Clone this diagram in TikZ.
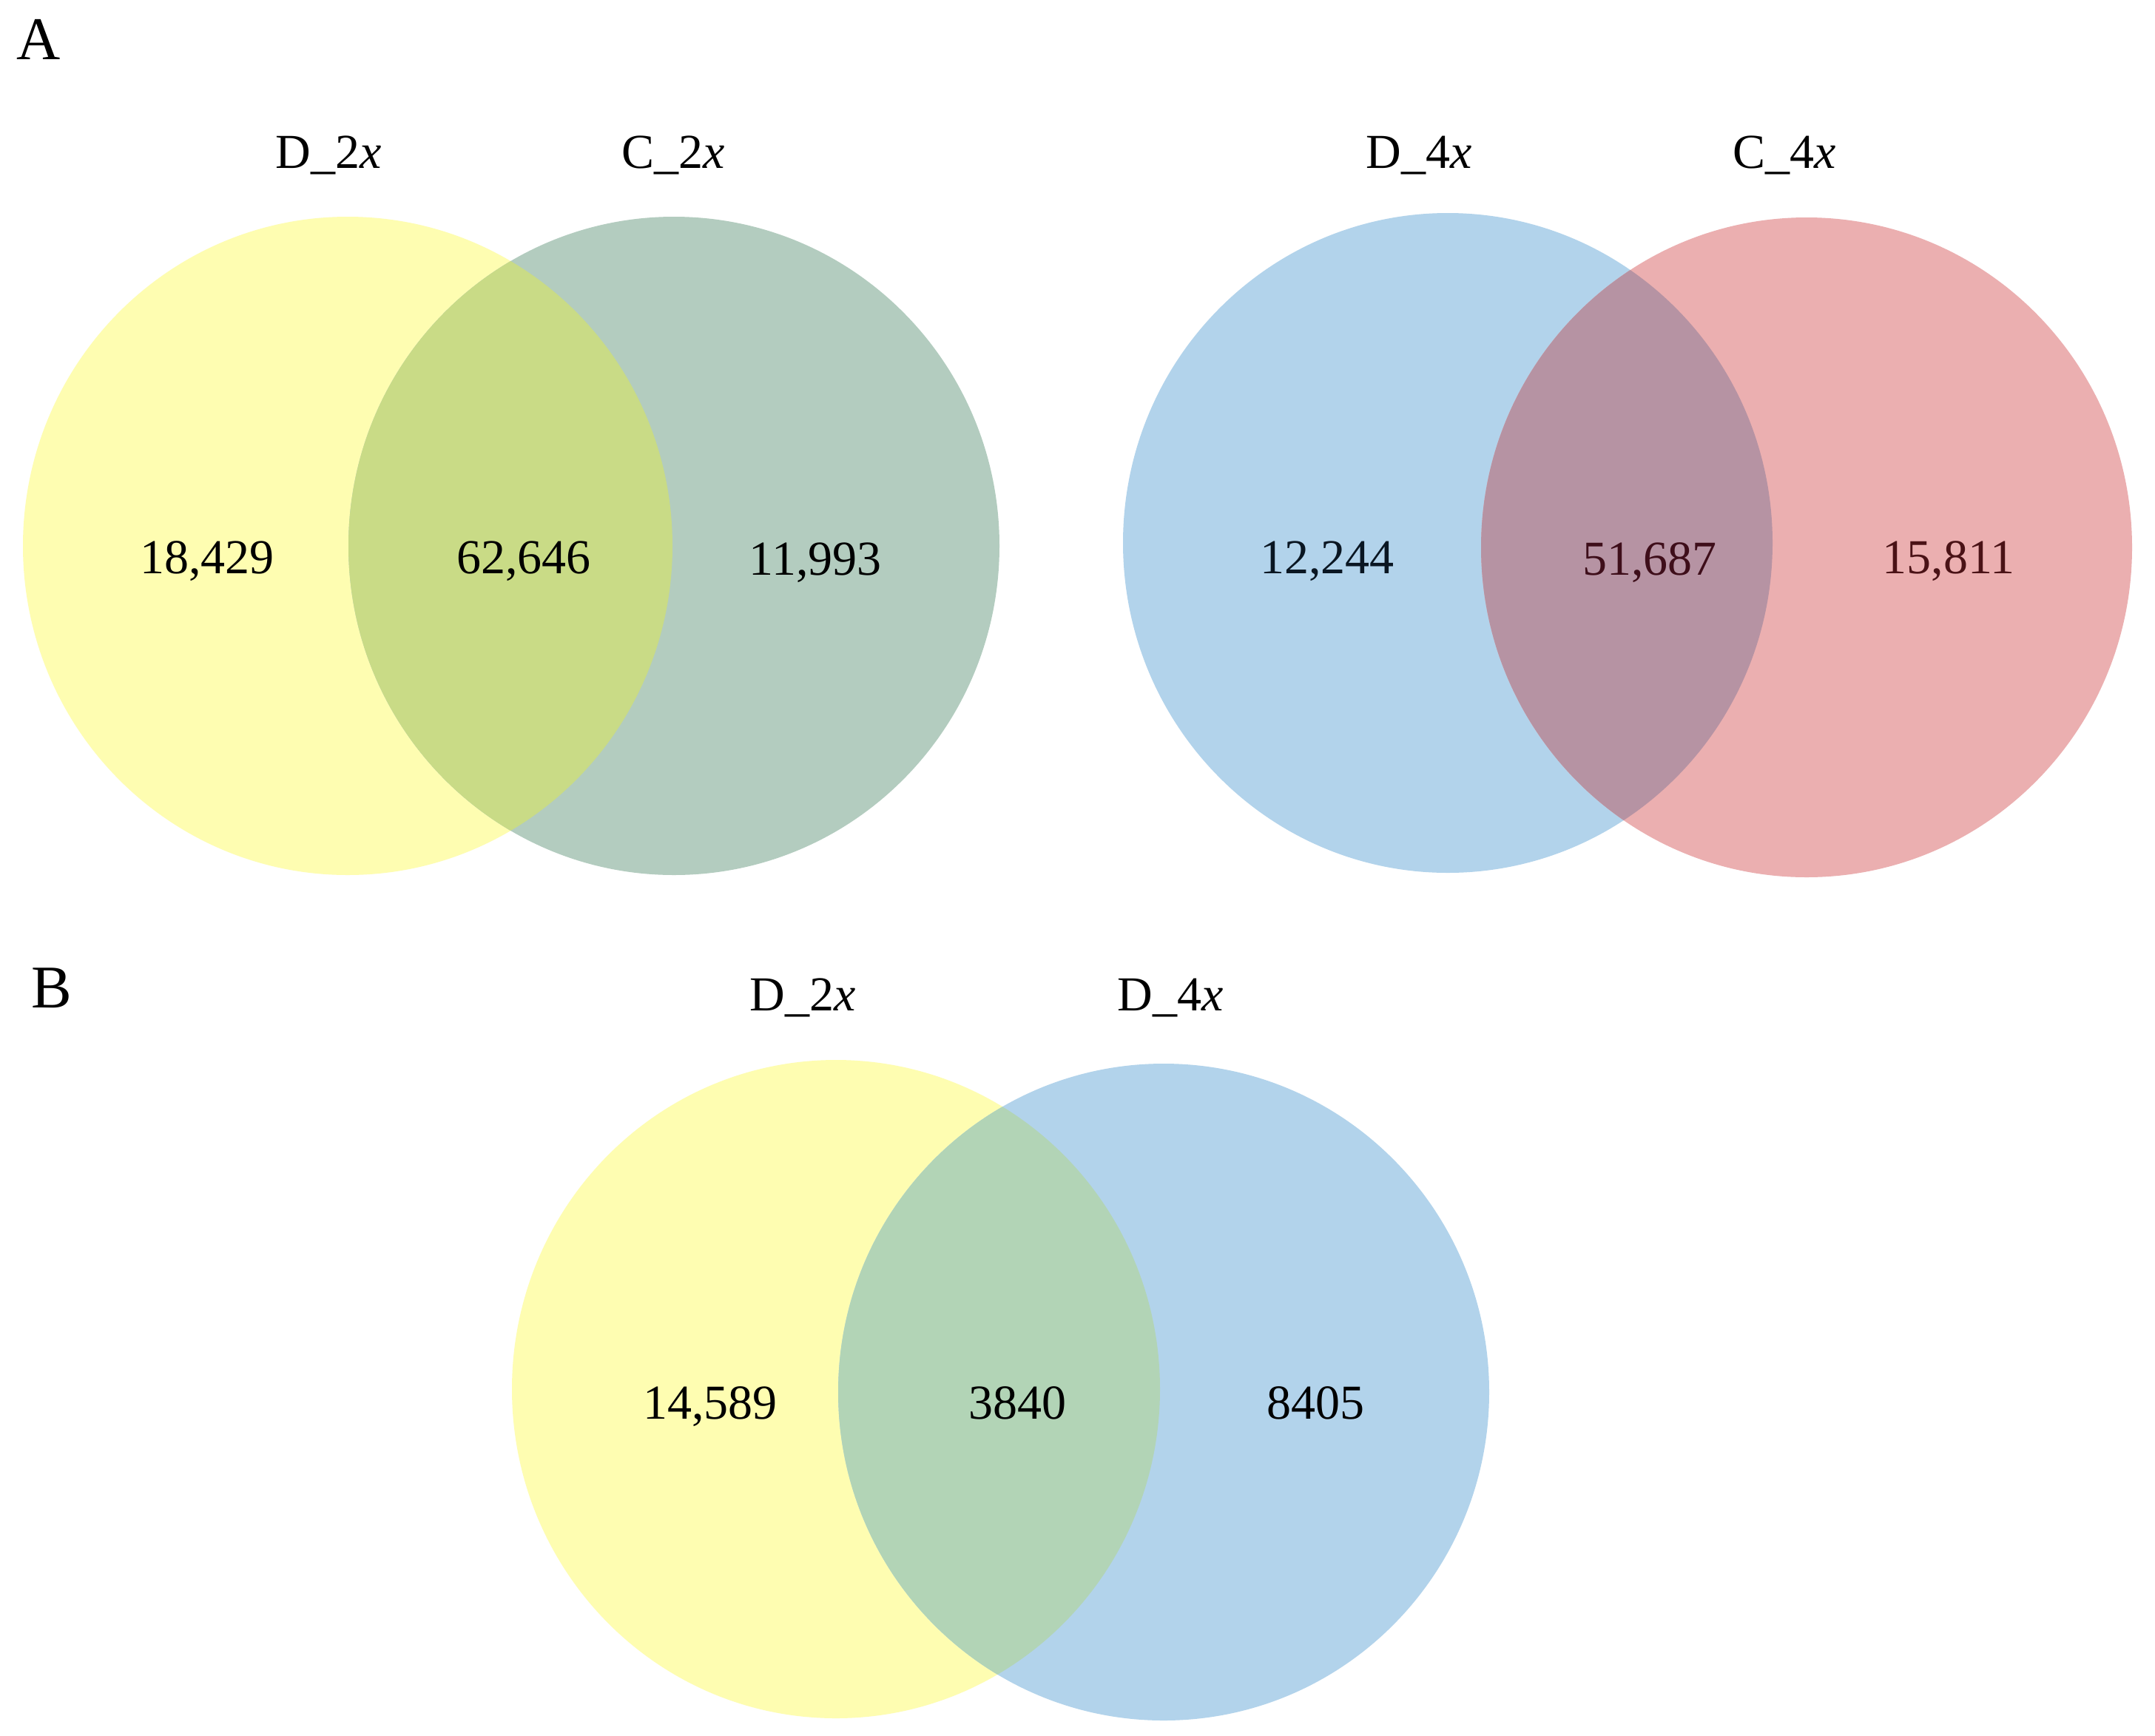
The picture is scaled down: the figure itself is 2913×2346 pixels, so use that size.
\documentclass[tikz,border=0pt]{standalone}
\usepackage{fontspec}
\setmainfont{Liberation Serif}
\definecolor{cyel}{HTML}{FEFDB1}
\definecolor{cteal}{HTML}{B3CCBF}
\definecolor{cyelteal}{HTML}{C9DB86}
\definecolor{cblue}{HTML}{B2D3EB}
\definecolor{cpink}{HTML}{EBAFB0}
\definecolor{cbluepink}{HTML}{B693A3}
\definecolor{cyelblue}{HTML}{B2D4B6}
\definecolor{tnavy}{HTML}{0A1622}
\definecolor{tmaroon}{HTML}{3E0E1A}
\definecolor{tred}{HTML}{4A1216}
\begin{document}
\begin{tikzpicture}[x=1pt,y=-1pt,
  num/.style={font=\fontsize{66}{79}\selectfont, inner sep=0pt, anchor=base},
  setlbl/.style={font=\fontsize{66}{79}\selectfont, inner sep=0pt, anchor=base},
  panel/.style={font=\fontsize{82}{98}\selectfont, inner sep=0pt, anchor=base}]
\useasboundingbox[fill=white] (0,0) rectangle (2913,2346);
% centres
\coordinate (cy1) at (470,738);
\coordinate (ct1) at (911,738);
\coordinate (cb1) at (1957,734);
\coordinate (cp1) at (2442,740);
\coordinate (cy2) at (1130,1878);
\coordinate (cb2) at (1573,1882);
% panel A left
\fill[cyel] (cy1) ellipse [x radius=439pt, y radius=445pt];
\fill[cteal] (ct1) ellipse [x radius=440pt, y radius=445pt];
\begin{scope}
  \clip (cy1) ellipse [x radius=439pt, y radius=445pt];
  \fill[cyelteal] (ct1) ellipse [x radius=440pt, y radius=445pt];
\end{scope}
% panel A right
\fill[cblue] (cb1) ellipse [x radius=439pt, y radius=446pt];
\fill[cpink] (cp1) ellipse [x radius=440pt, y radius=446pt];
\begin{scope}
  \clip (cb1) ellipse [x radius=439pt, y radius=446pt];
  \fill[cbluepink] (cp1) ellipse [x radius=440pt, y radius=446pt];
\end{scope}
% panel B
\fill[cyel] (cy2) ellipse [x radius=438pt, y radius=445pt];
\fill[cblue] (cb2) ellipse [x radius=440pt, y radius=444pt];
\begin{scope}
  \clip (cy2) ellipse [x radius=438pt, y radius=445pt];
  \fill[cyelblue] (cb2) ellipse [x radius=440pt, y radius=444pt];
\end{scope}
% panel letters
\node[panel] (pA) at (52,80) {A};
\node[panel] (pB) at (70,1362) {B};
% set labels
\node[setlbl] (l1) at (444,227) {D\_2\textit{x}};
\node[setlbl] (l2) at (910,227) {C\_2\textit{x}};
\node[setlbl] (l3) at (1918,227) {D\_4\textit{x}};
\node[setlbl] (l4) at (2412,227) {C\_4\textit{x}};
\node[setlbl] (l5) at (1085,1366) {D\_2\textit{x}};
\node[setlbl] (l6) at (1582,1366) {D\_4\textit{x}};
% counts
\node[num] (n1) at (280,775) {18,429};
\node[num] (n2) at (708,775) {62,646};
\node[num] (n3) at (1102,777) {11,993};
\node[num, text=tnavy] (n4) at (1794,775) {12,244};
\node[num, text=tmaroon] (n5) at (2230,777) {51,687};
\node[num, text=tred] (n6) at (2634,775) {15,811};
\node[num] (n7) at (960,1918) {14,589};
\node[num] (n8) at (1375,1918) {3840};
\node[num] (n9) at (1778,1918) {8405};
\end{tikzpicture}
\end{document}
